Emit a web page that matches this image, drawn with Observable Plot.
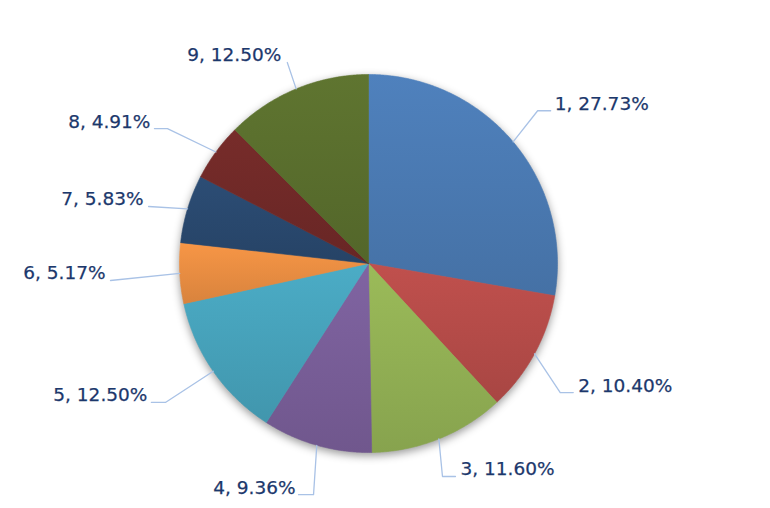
<!DOCTYPE html>
<html>
<head>
<meta charset="utf-8">
<script src="https://cdn.jsdelivr.net/npm/d3@7"></script>
<script src="https://cdn.jsdelivr.net/npm/@observablehq/plot@0.6"></script>
<style>
  html, body { margin: 0; padding: 0; background: #ffffff; }
  #chart { width: 770px; height: 508px; }
</style>
</head>
<body>
<div id="chart"></div>
<script>
// ---- Data ----
const categories = ["1", "2", "3", "4", "5", "6", "7", "8", "9"];
const percents = [27.73, 10.40, 11.60, 9.36, 12.50, 5.17, 5.83, 4.91, 12.50];

// ---- Style ----
const sliceColors = ["#4F81BD", "#C0504D", "#9BBB59", "#8064A2", "#4BACC6", "#F79646", "#2C4D75", "#772C2A", "#5F7530"];
// label leader layout per slice: [angle nudge (deg), knee radius factor, horizontal arm (px), text gap (px)]
const labelLayout = [
  [-2.0, 1.206, 13, 4],
  [5.4, 1.223, 13, 5],
  [2.7, 1.193, 13, 5],
  [-2.5, 1.257, 15, 3],
  [0.4, 1.302, 14, 4],
  [-0.8, 1.368, 0, 5],
  [-2.3, 1.202, 0, 5],
  [-2.3, 1.281, 13, 4],
  [0.5, 1.147, 0, 6]
];

const W = 770, H = 508, cx = 368, cy = 263, R = 189;
const rad = d => d * Math.PI / 180;

// cumulative angles (clockwise from 12 o'clock)
const total = d3.sum(percents);
let acc = 0;
const slices = categories.map((c, i) => {
  const a0 = acc / total * 360;
  acc += percents[i];
  const a1 = acc / total * 360;
  return {cat: c, pct: percents[i], a0, a1, mid: (a0 + a1) / 2, i};
});

// polygon outline of each slice, in unit-radius coordinates
const pieRows = [];
for (const s of slices) {
  pieRows.push({cat: s.cat, x: 0, y: 0});
  const n = Math.max(2, Math.ceil((s.a1 - s.a0) / 0.5));
  for (let k = 0; k <= n; k++) {
    const a = rad(s.a0 + (s.a1 - s.a0) * k / n);
    pieRows.push({cat: s.cat, x: Math.sin(a), y: Math.cos(a)});
  }
  pieRows.push({cat: s.cat, x: 0, y: 0});
}

// leader lines and label anchors
const leaderRows = [];
const labelsRight = [], labelsLeft = [];
for (const s of slices) {
  const [da, k, arm, gap] = labelLayout[s.i];
  const am = rad(s.mid);
  const ak = rad(s.mid + da);
  const p0 = {x: Math.sin(am), y: Math.cos(am)};
  const p1 = {x: k * Math.sin(ak), y: k * Math.cos(ak)};
  const right = s.mid < 180;
  const p2 = {x: p1.x + (right ? arm : -arm) / R, y: p1.y};
  leaderRows.push({cat: s.cat, ...p0}, {cat: s.cat, ...p1}, {cat: s.cat, ...p2});
  const lab = {text: `${s.cat}, ${s.pct.toFixed(2)}%`, x: p2.x + (right ? gap : -gap) / R, y: p2.y};
  (right ? labelsRight : labelsLeft).push(lab);
}

const gradIds = sliceColors.map((c, i) => `sliceGrad${i}`);

const textOpts = {x: "x", y: "y", text: "text", fontSize: 18.5, fontFamily: "DejaVu Sans", fill: "#1C386C", stroke: "#1C386C", strokeWidth: 0.25, dy: -7};

const svg = Plot.plot({
  width: W,
  height: H,
  margin: 0,
  x: {domain: [-cx / R, (W - cx) / R], axis: null},
  y: {domain: [-(H - cy) / R, cy / R], axis: null},
  color: {type: "ordinal", domain: categories, range: gradIds.map(id => `url(#${id})`)},
  marks: [
    Plot.line(pieRows, {x: "x", y: "y", z: "cat", fill: "cat", stroke: "cat", strokeWidth: 0.6, curve: "linear"}),
    Plot.line(leaderRows, {x: "x", y: "y", z: "cat", stroke: "#A9C2E6", strokeWidth: 1.3}),
    Plot.text(labelsRight, {...textOpts, textAnchor: "start"}),
    Plot.text(labelsLeft, {...textOpts, textAnchor: "end"})
  ]
});

// gradient definitions (slightly lighter top, darker bottom like the reference)
const ns = "http://www.w3.org/2000/svg";
const defs = document.createElementNS(ns, "defs");
sliceColors.forEach((c, i) => {
  const lg = document.createElementNS(ns, "linearGradient");
  lg.setAttribute("id", gradIds[i]);
  lg.setAttribute("x1", "0"); lg.setAttribute("y1", "0");
  lg.setAttribute("x2", "0"); lg.setAttribute("y2", "1");
  const top = d3.color(c).formatHex();
  const bot = d3.color(c).darker(0.38).formatHex();
  [[0, top], [1, bot]].forEach(([o, col]) => {
    const st = document.createElementNS(ns, "stop");
    st.setAttribute("offset", o);
    st.setAttribute("stop-color", col);
    lg.appendChild(st);
  });
  defs.appendChild(lg);
});
svg.insertBefore(defs, svg.firstChild);
const pieG = svg.querySelector('g[aria-label="line"]');
if (pieG) pieG.style.filter = "drop-shadow(0px 3px 4px rgba(0,0,0,0.4))";

document.getElementById("chart").appendChild(svg);
</script>
</body>
</html>
